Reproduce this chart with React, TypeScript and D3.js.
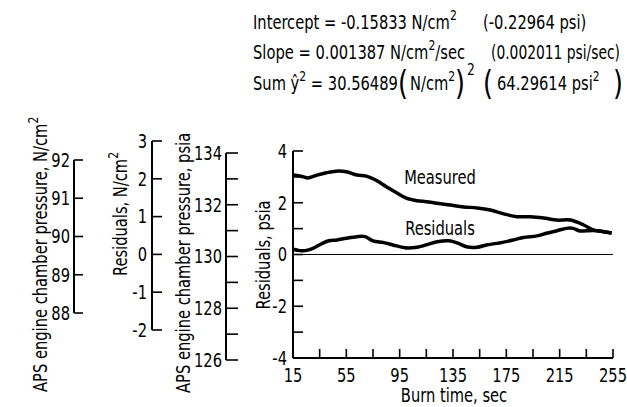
import React from "react";
import * as d3 from "d3";

// Burn time (sec) and measured chamber pressure (psia)
const measuredTime = [15, 23, 26, 33, 40, 49, 55, 63, 70, 77, 85, 93, 100, 108, 115, 123, 133, 143, 153, 163, 173, 183, 193, 203, 213, 223, 233, 240, 248, 254];
const measuredPsia = [133.07, 133.0, 132.96, 133.07, 133.16, 133.23, 133.2, 133.07, 133.03, 132.88, 132.62, 132.38, 132.18, 132.08, 132.04, 131.98, 131.91, 131.84, 131.8, 131.72, 131.57, 131.46, 131.46, 131.41, 131.33, 131.33, 131.14, 130.95, 130.88, 130.83];

// Burn time (sec) and residuals (psia)
const residualTime = [15, 20, 24, 30, 37, 42, 48, 55, 63, 69, 75, 83, 90, 99, 108, 115, 123, 132, 139, 145, 153, 160, 168, 180, 188, 198, 205, 213, 220, 225, 230, 235, 243, 254];
const residualPsia = [0.2, 0.15, 0.15, 0.24, 0.43, 0.53, 0.56, 0.63, 0.69, 0.69, 0.53, 0.46, 0.37, 0.26, 0.28, 0.37, 0.49, 0.53, 0.43, 0.3, 0.28, 0.37, 0.43, 0.56, 0.66, 0.72, 0.82, 0.92, 1.01, 1.01, 0.91, 0.92, 0.92, 0.83];

// Axis ticks
const timeTicks = d3.range(15, 256, 20);
const timeLabels = [15, 55, 95, 135, 175, 215, 255];
const residPsiaTicks = d3.range(-4, 5, 1);
const residPsiaLabels = [-4, -2, 0, 2, 4];
const pressPsiaTicks = d3.range(126, 135, 1);
const pressPsiaLabels = [126, 128, 130, 132, 134];
const residNTicks = [-2, -1, 0, 1, 2, 3];
const pressNTicks = [88, 89, 90, 91, 92];

const FONT = "'DejaVu Sans Condensed', 'DejaVu Sans', sans-serif";
const FS = 19;
const SX = 0.86; // horizontal squeeze for a condensed look
const UP = 9; // superscript raise

// Condensed text helper: translate, optional vertical rotation, squeeze.
function T({ x, y, rot, anchor = "start", size = FS, sx = SX, dy, children }: any) {
  return (
    <text
      transform={`translate(${x},${y})${rot ? " rotate(-90)" : ""} scale(${sx},1)`}
      textAnchor={anchor}
      fontSize={size}
      dy={dy}
    >
      {children}
    </text>
  );
}

const Sup = ({ children }: any) => (
  <tspan dy={-UP} fontSize={14}>
    {children}
  </tspan>
);

function Axis({ x, scale, ticks, labels, tickLen, labelGap }: any) {
  const [r0, r1] = scale.range();
  return (
    <g>
      <line x1={x} x2={x} y1={r0} y2={r1} stroke="#000" strokeWidth={2} />
      {ticks.map((t: number) => (
        <line key={t} x1={x} x2={x + tickLen} y1={scale(t)} y2={scale(t)} stroke="#000" strokeWidth={1.6} />
      ))}
      {labels.map((t: number) => (
        <T key={"l" + t} x={x - labelGap} y={scale(t)} dy="0.36em" anchor="end">
          {t}
        </T>
      ))}
    </g>
  );
}

export default function App() {
  const x = d3.scaleLinear().domain([15, 255]).range([293, 613]);
  const yRes = d3.scaleLinear().domain([-4, 4]).range([358, 151]);
  const yPsia = d3.scaleLinear().domain([126, 134]).range([358, 151]);

  // Side scales in equivalent units
  const sidePsia = d3.scaleLinear().domain([126, 134]).range([360, 153]);
  const sideResN = d3.scaleLinear().domain([-2, 3]).range([330, 141]);
  const sidePressN = d3.scaleLinear().domain([88, 92]).range([313, 160]);

  const measuredLine = d3
    .line<number>()
    .x((_, i) => x(measuredTime[i]))
    .y((d) => yPsia(d))
    .curve(d3.curveCatmullRom);
  const residualLine = d3
    .line<number>()
    .x((_, i) => x(residualTime[i]))
    .y((d) => yRes(d))
    .curve(d3.curveCatmullRom);

  return (
    <svg
      width={627}
      height={407}
      style={{ position: "absolute", left: 0, top: 0, background: "#fff" }}
      fontFamily={FONT}
      fill="#000"
    >
      {/* Regression summary */}
      <T x={253} y={29}>
        Intercept = -0.15833 N/cm<Sup>2</Sup>
      </T>
      <T x={483} y={29}>(-0.22964 psi)</T>
      <T x={253} y={59}>
        Slope = 0.001387 N/cm<Sup>2</Sup>
        <tspan dy={UP}>/sec</tspan>
      </T>
      <T x={491} y={59} sx={0.81}>(0.002011 psi/sec)</T>
      <T x={253} y={90}>
        Sum ŷ<Sup>2</Sup>
        <tspan dy={UP}> = 30.56489</tspan>
      </T>
      <T x={398} y={95} size={33}>(</T>
      <T x={410} y={90}>
        N/cm<Sup>2</Sup>
      </T>
      <T x={455} y={95} size={33}>)</T>
      <T x={467} y={75} size={16}>2</T>
      <T x={483} y={95} size={33}>(</T>
      <T x={497} y={90}>
        64.29614 psi<Sup>2</Sup>
      </T>
      <T x={613} y={95} size={33}>)</T>

      {/* Equivalent-unit side axes */}
      <Axis x={74} scale={sidePressN} ticks={pressNTicks} labels={pressNTicks} tickLen={9} labelGap={4} />
      <T x={40} y={392} rot dy="0.36em">
        APS engine chamber pressure, N/cm<Sup>2</Sup>
      </T>

      <Axis x={152} scale={sideResN} ticks={residNTicks} labels={residNTicks} tickLen={10} labelGap={5} />
      <T x={120} y={214} rot anchor="middle" dy="0.36em">
        Residuals, N/cm<Sup>2</Sup>
      </T>

      <Axis x={226} scale={sidePsia} ticks={pressPsiaTicks} labels={pressPsiaLabels} tickLen={12} labelGap={4} />
      <T x={183} y={393} rot dy="0.36em">
        APS engine chamber pressure, psia
      </T>

      {/* Main plot */}
      <Axis x={293} scale={yRes} ticks={residPsiaTicks} labels={residPsiaLabels} tickLen={10} labelGap={6} />
      <T x={263} y={255} rot anchor="middle" dy="0.36em">
        Residuals, psia
      </T>

      <line x1={x(15)} x2={x(255)} y1={yRes(-4)} y2={yRes(-4)} stroke="#000" strokeWidth={2} />
      {timeTicks.map((t) => (
        <line key={t} x1={x(t)} x2={x(t)} y1={yRes(-4)} y2={yRes(-4) - 9} stroke="#000" strokeWidth={1.6} />
      ))}
      {timeLabels.map((t) => (
        <T key={t} x={x(t)} y={yRes(-4) + 24} anchor="middle">
          {t}
        </T>
      ))}
      <T x={454} y={402} anchor="middle">Burn time,  sec</T>

      <line x1={x(15)} x2={x(255)} y1={yRes(0)} y2={yRes(0)} stroke="#000" strokeWidth={1.2} />

      <path d={measuredLine(measuredPsia) || ""} fill="none" stroke="#000" strokeWidth={3.5} />
      <path d={residualLine(residualPsia) || ""} fill="none" stroke="#000" strokeWidth={3.5} />

      <T x={440} y={184} anchor="middle">Measured</T>
      <T x={440} y={235} anchor="middle">Residuals</T>
    </svg>
  );
}
